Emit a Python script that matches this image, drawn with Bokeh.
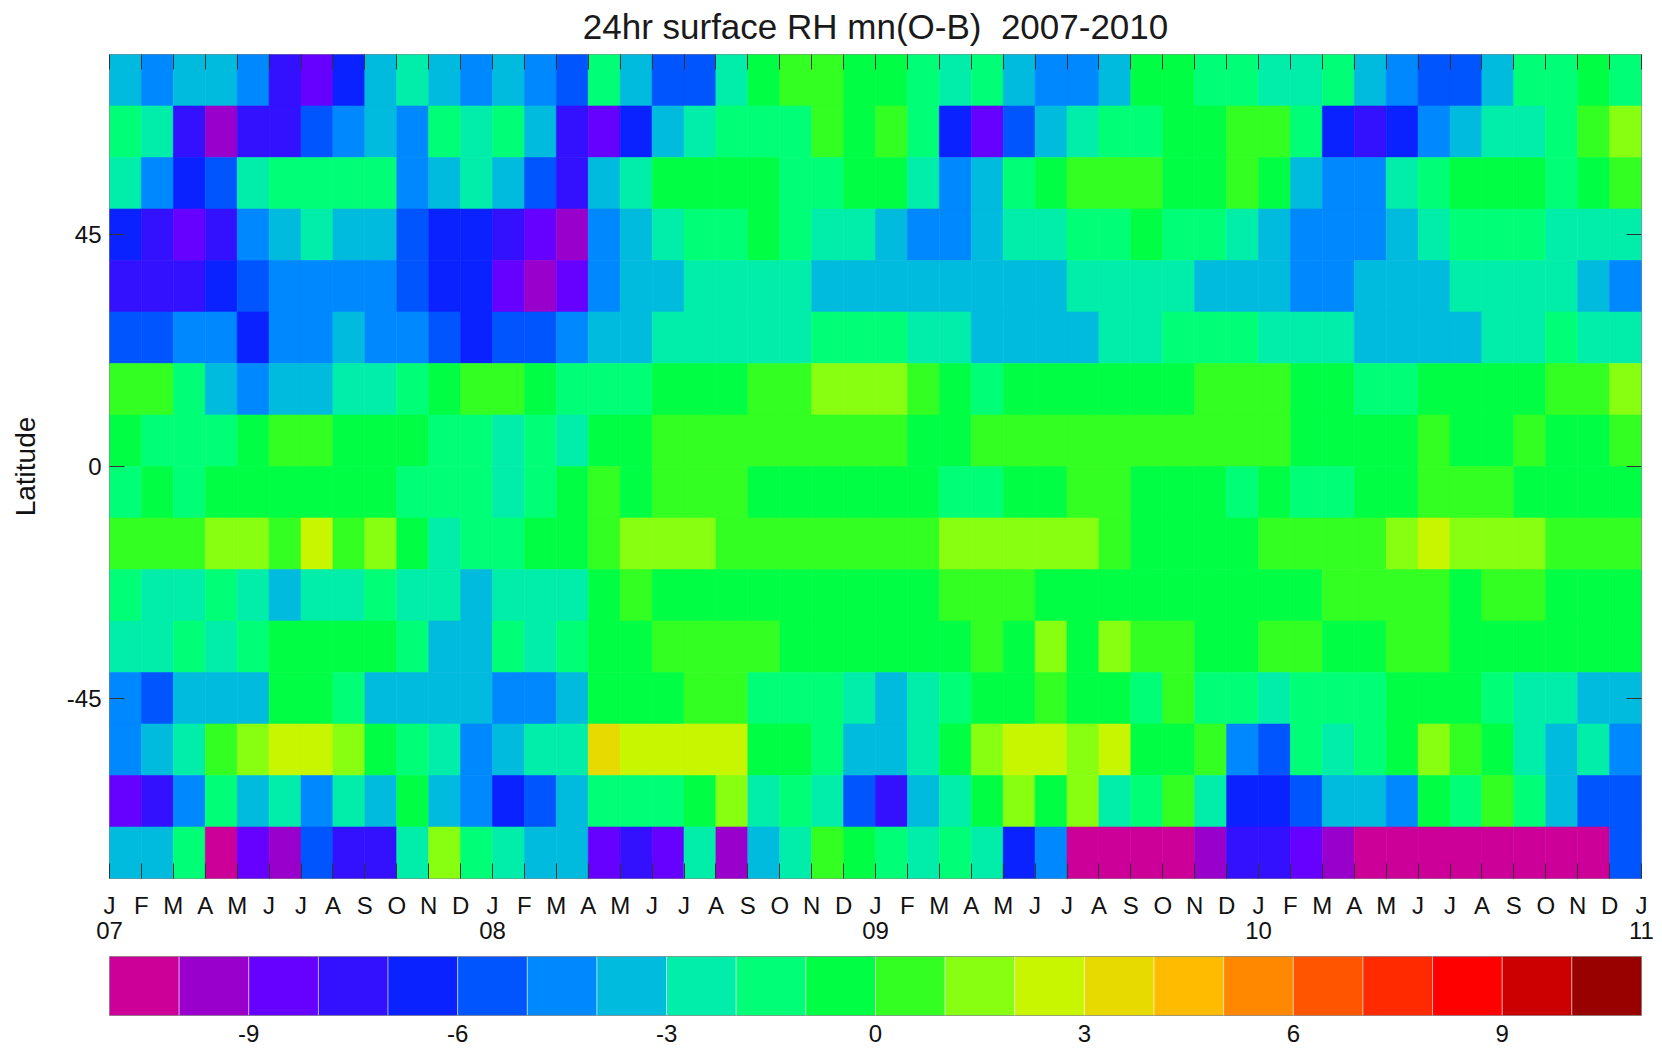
from bokeh.plotting import figure
from bokeh.models import ColumnDataSource, LinearColorMapper, FixedTicker, LinearAxis, Range1d
from bokeh.layouts import column
from bokeh.transform import transform
from bokeh.embed import file_html
from bokeh.resources import INLINE

# ---------------- data ----------------
month_letters = ["J", "F", "M", "A", "M", "J", "J", "A", "S", "O", "N", "D"] * 4 + ["J"]
year_labels = ["07", "08", "09", "10", "11"]
year_ticks = [0, 12, 24, 36, 48]
lat_ticks = [-45, 0, 45]
lat_tick_labels = ["-45", "0", "45"]
cbar_ticks = [-9, -6, -3, 0, 3, 6, 9]
cbar_tick_labels = ["-9", "-6", "-3", "0", "3", "6", "9"]

# southern edge of each 10-degree latitude band, north to south
lat_band_south = [70, 60, 50, 40, 30, 20, 10, 0, -10, -20, -30, -40, -50, -60, -70, -80]
lat_band_width = 10

# monthly mean O-B of surface RH, Jan 2007 .. Dec 2010 (one list per band)
rh_70n = [-3.5,-4.5,-3.5,-3.5,-4.5,-7.5,-8.5,-6.5,-3.5,-2.5,-3.5,-4.5,-3.5,-4.5,-5.5,-1.5,
          -3.5,-5.5,-5.5,-2.5,-0.5,0.5,0.5,-0.5,-0.5,-1.5,-2.5,-1.5,-3.5,-4.5,-4.5,-3.5,
          -0.5,-0.5,-1.5,-1.5,-2.5,-2.5,-1.5,-3.5,-4.5,-5.5,-5.5,-3.5,-1.5,-1.5,-0.5,-1.5]
rh_60n = [-1.5,-2.5,-7.5,-9.5,-7.5,-7.5,-5.5,-4.5,-3.5,-4.5,-1.5,-2.5,-1.5,-3.5,-7.5,-8.5,
          -6.5,-3.5,-2.5,-1.5,-1.5,-1.5,0.5,-0.5,0.5,-1.5,-6.5,-8.5,-5.5,-3.5,-2.5,-1.5,
          -1.5,-0.5,-0.5,0.5,0.5,-1.5,-6.5,-7.5,-6.5,-4.5,-3.5,-2.5,-2.5,-1.5,0.5,1.5]
rh_50n = [-2.5,-4.5,-6.5,-5.5,-2.5,-1.5,-1.5,-1.5,-1.5,-4.5,-3.5,-2.5,-3.5,-5.5,-7.5,-3.5,
          -2.5,-0.5,-0.5,-0.5,-0.5,-1.5,-1.5,-0.5,-0.5,-2.5,-4.5,-3.5,-1.5,-0.5,0.5,0.5,
          0.5,-0.5,-0.5,0.5,-0.5,-3.5,-4.5,-4.5,-2.5,-1.5,-0.5,-0.5,-0.5,-1.5,-0.5,0.5]
rh_40n = [-6.5,-7.5,-8.5,-7.5,-4.5,-3.5,-2.5,-3.5,-3.5,-5.5,-6.5,-6.5,-7.5,-8.5,-9.5,-4.5,
          -3.5,-2.5,-1.5,-1.5,-0.5,-1.5,-2.5,-2.5,-3.5,-4.5,-4.5,-3.5,-2.5,-2.5,-1.5,-1.5,
          -0.5,-1.5,-1.5,-2.5,-3.5,-4.5,-4.5,-4.5,-3.5,-2.5,-1.5,-1.5,-1.5,-2.5,-2.5,-2.5]
rh_30n = [-7.5,-7.5,-7.5,-6.5,-5.5,-4.5,-4.5,-4.5,-4.5,-5.5,-6.5,-6.5,-8.5,-9.5,-8.5,-4.5,
          -3.5,-3.5,-2.5,-2.5,-2.5,-2.5,-3.5,-3.5,-3.5,-3.5,-3.5,-3.5,-3.5,-3.5,-2.5,-2.5,
          -2.5,-2.5,-3.5,-3.5,-3.5,-4.5,-4.5,-3.5,-3.5,-3.5,-2.5,-2.5,-2.5,-2.5,-3.5,-4.5]
rh_20n = [-5.5,-5.5,-4.5,-4.5,-6.5,-4.5,-4.5,-3.5,-4.5,-4.5,-5.5,-6.5,-5.5,-5.5,-4.5,-3.5,
          -3.5,-2.5,-2.5,-2.5,-2.5,-2.5,-1.5,-1.5,-1.5,-2.5,-2.5,-3.5,-3.5,-3.5,-3.5,-2.5,
          -2.5,-1.5,-1.5,-1.5,-2.5,-2.5,-2.5,-3.5,-3.5,-3.5,-3.5,-2.5,-2.5,-1.5,-2.5,-2.5]
rh_10n = [0.5,0.5,-1.5,-3.5,-4.5,-3.5,-3.5,-2.5,-2.5,-1.5,-0.5,0.5,0.5,-0.5,-1.5,-1.5,
          -1.5,-0.5,-0.5,-0.5,0.5,0.5,1.5,1.5,1.5,0.5,-0.5,-1.5,-0.5,-0.5,-0.5,-0.5,
          -0.5,-0.5,0.5,0.5,0.5,-0.5,-0.5,-1.5,-1.5,-0.5,-0.5,-0.5,-0.5,0.5,0.5,1.5]
rh_00n = [-0.5,-1.5,-1.5,-1.5,-0.5,0.5,0.5,-0.5,-0.5,-0.5,-1.5,-1.5,-2.5,-1.5,-2.5,-0.5,
          -0.5,0.5,0.5,0.5,0.5,0.5,0.5,0.5,0.5,-0.5,-0.5,0.5,0.5,0.5,0.5,0.5,
          0.5,0.5,0.5,0.5,0.5,-0.5,-0.5,-0.5,-0.5,0.5,-0.5,-0.5,0.5,-0.5,-0.5,0.5]
rh_10s = [-1.5,-0.5,-1.5,-0.5,-0.5,-0.5,-0.5,-0.5,-0.5,-1.5,-1.5,-1.5,-2.5,-1.5,-0.5,0.5,
          -0.5,0.5,0.5,0.5,-0.5,-0.5,-0.5,-0.5,-0.5,-0.5,-1.5,-1.5,-0.5,-0.5,0.5,0.5,
          -0.5,-0.5,-0.5,-1.5,-0.5,-1.5,-1.5,-0.5,-0.5,0.5,0.5,0.5,-0.5,-0.5,-0.5,-0.5]
rh_20s = [0.5,0.5,0.5,1.5,1.5,0.5,2.5,0.5,1.5,-0.5,-2.5,-1.5,-1.5,-0.5,-0.5,0.5,
          1.5,1.5,1.5,0.5,0.5,0.5,0.5,0.5,0.5,0.5,1.5,1.5,1.5,1.5,1.5,0.5,
          -0.5,-0.5,-0.5,-0.5,0.5,0.5,0.5,0.5,1.5,2.5,1.5,1.5,1.5,0.5,0.5,0.5]
rh_30s = [-1.5,-2.5,-2.5,-1.5,-2.5,-3.5,-2.5,-2.5,-1.5,-2.5,-2.5,-3.5,-2.5,-2.5,-2.5,-0.5,
          0.5,-0.5,-0.5,-0.5,-0.5,-0.5,-0.5,-0.5,-0.5,-0.5,0.5,0.5,0.5,-0.5,-0.5,-0.5,
          -0.5,-0.5,-0.5,-0.5,-0.5,-0.5,0.5,0.5,0.5,0.5,-0.5,0.5,0.5,-0.5,-0.5,-0.5]
rh_40s = [-2.5,-2.5,-1.5,-2.5,-1.5,-0.5,-0.5,-0.5,-0.5,-1.5,-3.5,-3.5,-1.5,-2.5,-1.5,-0.5,
          -0.5,0.5,0.5,0.5,0.5,-0.5,-0.5,-0.5,-0.5,-0.5,-0.5,0.5,-0.5,1.5,-0.5,1.5,
          0.5,0.5,-0.5,-0.5,0.5,0.5,-0.5,-0.5,0.5,0.5,-0.5,-0.5,-0.5,-0.5,-0.5,-0.5]
rh_50s = [-4.5,-5.5,-3.5,-3.5,-3.5,-0.5,-0.5,-1.5,-3.5,-3.5,-3.5,-3.5,-4.5,-4.5,-3.5,-0.5,
          -0.5,-0.5,0.5,0.5,-1.5,-1.5,-1.5,-2.5,-3.5,-2.5,-1.5,-0.5,-0.5,0.5,-0.5,-0.5,
          -1.5,0.5,-1.5,-1.5,-2.5,-1.5,-1.5,-1.5,-0.5,-0.5,-0.5,-1.5,-2.5,-2.5,-3.5,-3.5]
rh_60s = [-4.5,-3.5,-2.5,0.5,1.5,2.5,2.5,1.5,-0.5,-1.5,-2.5,-4.5,-3.5,-2.5,-2.5,3.5,
          2.5,2.5,2.5,2.5,-0.5,-0.5,-1.5,-3.5,-3.5,-2.5,-0.5,1.5,2.5,2.5,1.5,2.5,
          -0.5,-0.5,0.5,-4.5,-5.5,-1.5,-2.5,-1.5,-0.5,1.5,0.5,-0.5,-2.5,-3.5,-2.5,-4.5]
rh_70s = [-8.5,-7.5,-4.5,-1.5,-3.5,-2.5,-4.5,-2.5,-3.5,-0.5,-3.5,-4.5,-6.5,-5.5,-3.5,-1.5,
          -1.5,-1.5,-0.5,1.5,-2.5,-1.5,-2.5,-5.5,-7.5,-3.5,-2.5,-0.5,1.5,-0.5,1.5,-2.5,
          -1.5,0.5,-2.5,-6.5,-6.5,-5.5,-3.5,-3.5,-4.5,-0.5,-1.5,0.5,-1.5,-3.5,-5.5,-5.5]
rh_80s = [-3.5,-3.5,-1.5,-10.5,-8.5,-9.5,-5.5,-7.5,-7.5,-2.5,1.5,-1.5,-2.5,-3.5,-3.5,-8.5,
          -7.5,-8.5,-2.5,-9.5,-3.5,-2.5,0.5,-0.5,-1.5,-2.5,-1.5,-2.5,-6.5,-4.5,-10.5,-10.5,
          -10.5,-10.5,-9.5,-7.5,-7.5,-8.5,-9.5,-10.5,-10.5,-10.5,-10.5,-10.5,-10.5,-10.5,-10.5,-5.5]

rh_rows = [rh_70n, rh_60n, rh_50n, rh_40n, rh_30n, rh_20n, rh_10n, rh_00n,
           rh_10s, rh_20s, rh_30s, rh_40s, rh_50s, rh_60s, rh_70s, rh_80s]

palette = ["#CC0099", "#9900CC", "#6600FF", "#3311FF", "#0A22FF", "#0055FF",
           "#0088FF", "#00BBDD", "#00EEAA", "#00FF77", "#00FF44", "#33FF22",
           "#88FF11", "#C8F500", "#E6DA00", "#FFBB00", "#FF8800", "#FF5500",
           "#FF2A00", "#FF0000", "#CC0000", "#990000"]
level_edges = list(range(-11, 12))

FONT = "Liberation Sans"
TXT = "#111111"

# ---------------- heat map ----------------
left, right, bottom, top, val = [], [], [], [], []
for lat, row in zip(lat_band_south, rh_rows):
    for m, v in enumerate(row):
        left.append(m)
        right.append(m + 1)
        bottom.append(lat)
        top.append(lat + lat_band_width)
        val.append(v)
src = ColumnDataSource(dict(left=left, right=right, bottom=bottom, top=top, val=val))

mapper = LinearColorMapper(palette=palette, low=level_edges[0], high=level_edges[-1])

n_months = len(month_letters) - 1
p = figure(width=1654, height=950,
           x_range=Range1d(0, n_months),
           y_range=Range1d(lat_band_south[-1], lat_band_south[0] + lat_band_width),
           x_axis_location=None, y_axis_location=None,
           toolbar_location=None, output_backend="svg",
           min_border_left=109, min_border_right=13, min_border_top=51, min_border_bottom=72)
p.grid.visible = False
p.outline_line_color = "#8a8a8a"
p.outline_line_width = 1

p.quad(left="left", right="right", bottom="bottom", top="top", source=src,
       fill_color=transform("val", mapper), line_color=transform("val", mapper), line_width=0.6)

p.title.text = "24hr surface RH mn(O-B)\u00a0 2007-2010"
p.title.align = "center"
p.title.vertical_align = "top"
p.title.text_font = FONT
p.title.text_font_size = "35px"
p.title.text_font_style = "normal"
p.title.text_color = "#1a1a1a"
p.title.standoff = 13

month_ticks = list(range(n_months + 1))
tick_style = dict(major_tick_in=15, major_tick_out=0, minor_tick_line_color=None,
                  major_tick_line_color="#333333", axis_line_color=None)

# tick marks only (no labels) on the top and right edges
top_ax = LinearAxis(ticker=FixedTicker(ticks=month_ticks), major_label_text_color=None,
                    major_label_text_font_size="1px", major_label_standoff=0, **tick_style)
p.add_layout(top_ax, "above")
right_ax = LinearAxis(ticker=FixedTicker(ticks=lat_ticks), major_label_text_color=None,
                      major_label_text_font_size="1px", major_label_standoff=0, **tick_style)
p.add_layout(right_ax, "right")

month_ax = LinearAxis(ticker=FixedTicker(ticks=month_ticks),
                      major_label_overrides={i: s for i, s in enumerate(month_letters)},
                      major_label_text_font=FONT, major_label_text_font_size="24px",
                      major_label_text_color=TXT, major_label_standoff=13, **tick_style)
p.add_layout(month_ax, "below")

year_ax = LinearAxis(ticker=FixedTicker(ticks=year_ticks),
                     major_label_overrides={t: s for t, s in zip(year_ticks, year_labels)},
                     major_label_text_font=FONT, major_label_text_font_size="24px",
                     major_label_text_color=TXT, major_label_standoff=0,
                     major_tick_line_color=None, minor_tick_line_color=None, axis_line_color=None,
                     major_tick_out=0, major_tick_in=0)
p.add_layout(year_ax, "below")

lat_ax = LinearAxis(ticker=FixedTicker(ticks=lat_ticks), axis_label="Latitude",
                    major_label_overrides={t: s for t, s in zip(lat_ticks, lat_tick_labels)},
                    axis_label_text_font=FONT, axis_label_text_font_size="28px",
                    axis_label_text_font_style="normal", axis_label_text_color=TXT,
                    axis_label_standoff=23,
                    major_label_text_font=FONT, major_label_text_font_size="24px",
                    major_label_text_color=TXT, major_label_standoff=8, **tick_style)
p.add_layout(lat_ax, "left")

# ---------------- colour bar ----------------
cb_src = ColumnDataSource(dict(left=level_edges[:-1], right=level_edges[1:], color=palette))
cb = figure(width=1654, height=102,
            x_range=Range1d(level_edges[0], level_edges[-1]), y_range=Range1d(0, 1),
            x_axis_location=None, y_axis_location=None,
            toolbar_location=None, output_backend="svg",
            min_border_left=109, min_border_right=13, min_border_top=6, min_border_bottom=37)
cb.grid.visible = False
cb.outline_line_color = "#666666"
cb.quad(left="left", right="right", bottom=0, top=1, source=cb_src,
        fill_color="color", line_color="white", line_alpha=0.45, line_width=1)
cb_ax = LinearAxis(ticker=FixedTicker(ticks=cbar_ticks),
                   major_label_overrides={t: s for t, s in zip(cbar_ticks, cbar_tick_labels)},
                   major_label_text_font=FONT, major_label_text_font_size="24px",
                   major_label_text_color=TXT, major_label_standoff=9,
                   major_tick_in=0, major_tick_out=0, minor_tick_line_color=None,
                   axis_line_color=None)
cb.add_layout(cb_ax, "below")

layout = column(p, cb, spacing=0)
open("out.html", "w").write(file_html(layout, INLINE))
